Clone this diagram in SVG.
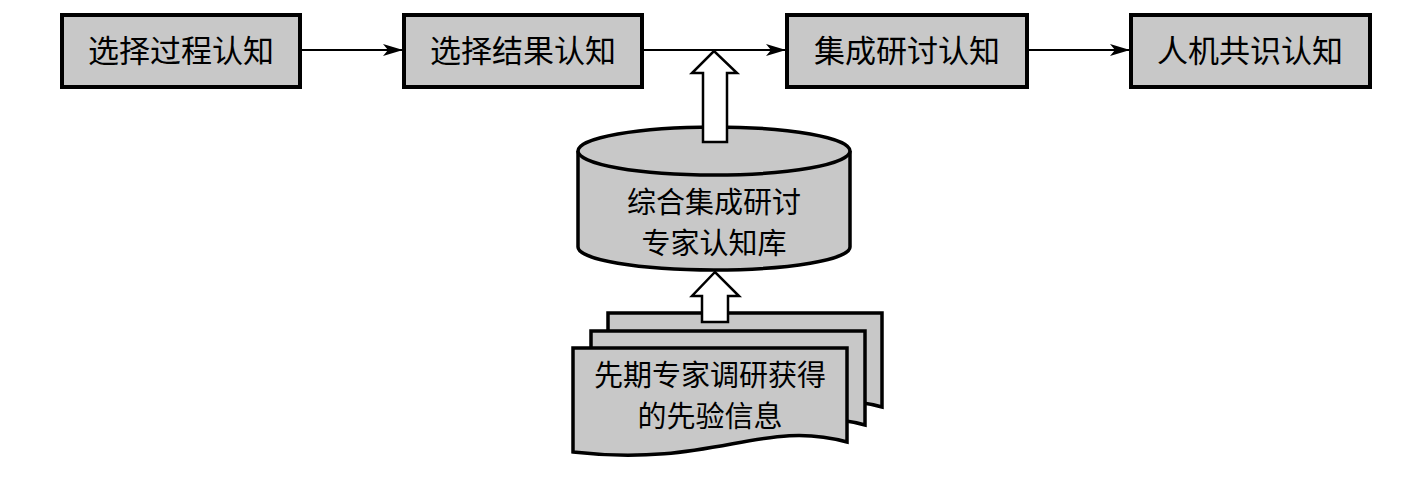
<svg xmlns="http://www.w3.org/2000/svg" width="1417" height="482" viewBox="0 0 1417 482">
<style>
.box{fill:#c8c8c8;stroke:#000;stroke-width:4}
.shape{fill:#c8c8c8;stroke:#000;stroke-width:3.5}
.hollow{fill:#fff;stroke:#000;stroke-width:2.5;stroke-linejoin:miter}
.line{stroke:#000;stroke-width:2.2;fill:none}
text{font-family:"Noto Sans CJK SC","Noto Sans CJK JP",sans-serif;font-size:31px;fill:#000;text-anchor:middle}
text.ml{font-size:29px}
</style>
<defs>
<marker id="arr" viewBox="0 0 20 12" refX="20" refY="6" markerWidth="20" markerHeight="12" markerUnits="userSpaceOnUse" orient="auto">
<path d="M0,0 L20,6 L0,12 L5,6 Z" fill="#000"/>
</marker>
<path id="doc" d="M0,0 L274,0 L274,94 C190,70 140,120 0,104 Z"/>
</defs>
<g id="connectors">
<line class="line" x1="300" y1="50" x2="403" y2="50" marker-end="url(#arr)"/>
<line class="line" x1="642" y1="50" x2="786" y2="50" marker-end="url(#arr)"/>
<line class="line" x1="1027" y1="50" x2="1130" y2="50" marker-end="url(#arr)"/>
</g>
<g id="n1"><rect class="box" x="62" y="15" width="238" height="72"/><text x="181" y="62">选择过程认知</text></g>
<g id="n2"><rect class="box" x="404" y="15" width="238" height="72"/><text x="523" y="62">选择结果认知</text></g>
<g id="n3"><rect class="box" x="787" y="15" width="240" height="72"/><text x="907" y="62">集成研讨认知</text></g>
<g id="n4"><rect class="box" x="1131" y="15" width="239" height="72"/><text x="1250" y="62">人机共识认知</text></g>
<g id="db">
<path class="shape" d="M578,151 L578,247 A136,23 0 0 0 850,247 L850,151 A136,24 0 0 0 578,151 Z"/>
<path class="shape" d="M578,151 A136,24 0 0 0 850,151" fill="none"/>
<text class="ml" x="714" y="213">综合集成研讨</text>
<text class="ml" x="714" y="254">专家认知库</text>
</g>
<g id="docs">
<use href="#doc" class="shape" transform="translate(608,313)"/>
<use href="#doc" class="shape" transform="translate(591,331)"/>
<use href="#doc" class="shape" transform="translate(573,348)"/>
<text class="ml" x="710" y="386">先期专家调研获得</text>
<text class="ml" x="710" y="427">的先验信息</text>
</g>
<g id="arrow-up1"><path class="hollow" d="M703,142 L703,73 L692,73 L714,51 L737,73 L727,73 L727,142 Z"/></g>
<g id="arrow-up2"><path class="hollow" d="M702,322 L702,296 L692,296 L715,272 L739,296 L728,296 L728,322 Z"/></g>
</svg>
